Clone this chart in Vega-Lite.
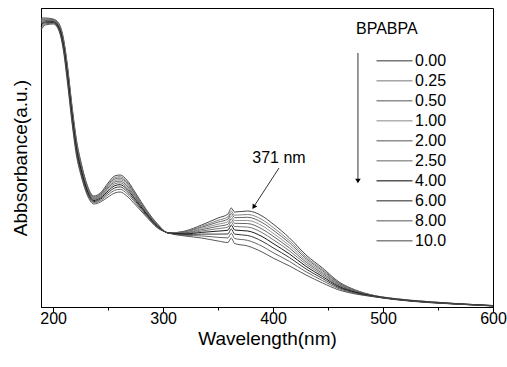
{
"$schema":"https://vega.github.io/schema/vega-lite/v6.json",
"width":452,"height":299,
"autosize":{"type":"none"},
"padding":{"left":41,"top":8,"right":14,"bottom":60},
"config":{"font":"Liberation Sans","view":{"stroke":"black","strokeWidth":1}},
"datasets":{"spec":[
{"c":"0.00","w":189,"a":2.890},{"c":"0.00","w":193,"a":2.890},{"c":"0.00","w":200,"a":2.880},{"c":"0.00","w":205,"a":2.840},{"c":"0.00","w":209,"a":2.710},{"c":"0.00","w":213,"a":2.420},{"c":"0.00","w":217,"a":2.030},{"c":"0.00","w":221,"a":1.690},{"c":"0.00","w":226,"a":1.420},{"c":"0.00","w":231,"a":1.220},{"c":"0.00","w":237,"a":1.110},{"c":"0.00","w":243,"a":1.140},{"c":"0.00","w":250,"a":1.240},{"c":"0.00","w":256,"a":1.310},{"c":"0.00","w":261,"a":1.320},{"c":"0.00","w":267,"a":1.270},{"c":"0.00","w":275,"a":1.140},{"c":"0.00","w":285,"a":0.970},{"c":"0.00","w":295,"a":0.830},{"c":"0.00","w":305,"a":0.740},{"c":"0.00","w":320,"a":0.760},{"c":"0.00","w":335,"a":0.820},{"c":"0.00","w":350,"a":0.890},{"c":"0.00","w":359,"a":0.930},{"c":"0.00","w":362,"a":0.990},{"c":"0.00","w":365,"a":0.950},{"c":"0.00","w":377,"a":0.960},{"c":"0.00","w":390,"a":0.910},{"c":"0.00","w":400,"a":0.830},{"c":"0.00","w":415,"a":0.690},{"c":"0.00","w":430,"a":0.520},{"c":"0.00","w":445,"a":0.390},{"c":"0.00","w":460,"a":0.250},{"c":"0.00","w":475,"a":0.170},{"c":"0.00","w":490,"a":0.120},{"c":"0.00","w":510,"a":0.085},{"c":"0.00","w":540,"a":0.055},{"c":"0.00","w":570,"a":0.032},{"c":"0.00","w":600,"a":0.015},
{"c":"0.25","w":189,"a":2.878},{"c":"0.25","w":193,"a":2.883},{"c":"0.25","w":200,"a":2.875},{"c":"0.25","w":205,"a":2.833},{"c":"0.25","w":209,"a":2.698},{"c":"0.25","w":213,"a":2.403},{"c":"0.25","w":217,"a":2.013},{"c":"0.25","w":221,"a":1.674},{"c":"0.25","w":226,"a":1.407},{"c":"0.25","w":231,"a":1.210},{"c":"0.25","w":237,"a":1.102},{"c":"0.25","w":243,"a":1.131},{"c":"0.25","w":250,"a":1.226},{"c":"0.25","w":256,"a":1.293},{"c":"0.25","w":261,"a":1.303},{"c":"0.25","w":267,"a":1.254},{"c":"0.25","w":275,"a":1.128},{"c":"0.25","w":285,"a":0.963},{"c":"0.25","w":295,"a":0.826},{"c":"0.25","w":305,"a":0.740},{"c":"0.25","w":320,"a":0.755},{"c":"0.25","w":335,"a":0.807},{"c":"0.25","w":350,"a":0.867},{"c":"0.25","w":359,"a":0.901},{"c":"0.25","w":362,"a":0.960},{"c":"0.25","w":365,"a":0.918},{"c":"0.25","w":377,"a":0.925},{"c":"0.25","w":390,"a":0.874},{"c":"0.25","w":400,"a":0.796},{"c":"0.25","w":415,"a":0.662},{"c":"0.25","w":430,"a":0.500},{"c":"0.25","w":445,"a":0.375},{"c":"0.25","w":460,"a":0.242},{"c":"0.25","w":475,"a":0.166},{"c":"0.25","w":490,"a":0.118},{"c":"0.25","w":510,"a":0.084},{"c":"0.25","w":540,"a":0.054},{"c":"0.25","w":570,"a":0.031},{"c":"0.25","w":600,"a":0.014},
{"c":"0.50","w":189,"a":2.868},{"c":"0.50","w":193,"a":2.877},{"c":"0.50","w":200,"a":2.871},{"c":"0.50","w":205,"a":2.827},{"c":"0.50","w":209,"a":2.688},{"c":"0.50","w":213,"a":2.389},{"c":"0.50","w":217,"a":1.999},{"c":"0.50","w":221,"a":1.661},{"c":"0.50","w":226,"a":1.397},{"c":"0.50","w":231,"a":1.202},{"c":"0.50","w":237,"a":1.096},{"c":"0.50","w":243,"a":1.124},{"c":"0.50","w":250,"a":1.215},{"c":"0.50","w":256,"a":1.279},{"c":"0.50","w":261,"a":1.289},{"c":"0.50","w":267,"a":1.241},{"c":"0.50","w":275,"a":1.118},{"c":"0.50","w":285,"a":0.957},{"c":"0.50","w":295,"a":0.823},{"c":"0.50","w":305,"a":0.740},{"c":"0.50","w":320,"a":0.751},{"c":"0.50","w":335,"a":0.797},{"c":"0.50","w":350,"a":0.849},{"c":"0.50","w":359,"a":0.879},{"c":"0.50","w":362,"a":0.936},{"c":"0.50","w":365,"a":0.893},{"c":"0.50","w":377,"a":0.897},{"c":"0.50","w":390,"a":0.845},{"c":"0.50","w":400,"a":0.769},{"c":"0.50","w":415,"a":0.640},{"c":"0.50","w":430,"a":0.484},{"c":"0.50","w":445,"a":0.363},{"c":"0.50","w":460,"a":0.236},{"c":"0.50","w":475,"a":0.163},{"c":"0.50","w":490,"a":0.117},{"c":"0.50","w":510,"a":0.083},{"c":"0.50","w":540,"a":0.053},{"c":"0.50","w":570,"a":0.031},{"c":"0.50","w":600,"a":0.014},
{"c":"1.00","w":189,"a":2.858},{"c":"1.00","w":193,"a":2.871},{"c":"1.00","w":200,"a":2.866},{"c":"1.00","w":205,"a":2.821},{"c":"1.00","w":209,"a":2.678},{"c":"1.00","w":213,"a":2.374},{"c":"1.00","w":217,"a":1.984},{"c":"1.00","w":221,"a":1.647},{"c":"1.00","w":226,"a":1.385},{"c":"1.00","w":231,"a":1.193},{"c":"1.00","w":237,"a":1.088},{"c":"1.00","w":243,"a":1.116},{"c":"1.00","w":250,"a":1.202},{"c":"1.00","w":256,"a":1.264},{"c":"1.00","w":261,"a":1.274},{"c":"1.00","w":267,"a":1.227},{"c":"1.00","w":275,"a":1.108},{"c":"1.00","w":285,"a":0.951},{"c":"1.00","w":295,"a":0.819},{"c":"1.00","w":305,"a":0.740},{"c":"1.00","w":320,"a":0.746},{"c":"1.00","w":335,"a":0.785},{"c":"1.00","w":350,"a":0.828},{"c":"1.00","w":359,"a":0.853},{"c":"1.00","w":362,"a":0.909},{"c":"1.00","w":365,"a":0.865},{"c":"1.00","w":377,"a":0.865},{"c":"1.00","w":390,"a":0.813},{"c":"1.00","w":400,"a":0.738},{"c":"1.00","w":415,"a":0.614},{"c":"1.00","w":430,"a":0.466},{"c":"1.00","w":445,"a":0.349},{"c":"1.00","w":460,"a":0.228},{"c":"1.00","w":475,"a":0.159},{"c":"1.00","w":490,"a":0.116},{"c":"1.00","w":510,"a":0.082},{"c":"1.00","w":540,"a":0.052},{"c":"1.00","w":570,"a":0.031},{"c":"1.00","w":600,"a":0.014},
{"c":"2.00","w":189,"a":2.847},{"c":"2.00","w":193,"a":2.865},{"c":"2.00","w":200,"a":2.862},{"c":"2.00","w":205,"a":2.815},{"c":"2.00","w":209,"a":2.667},{"c":"2.00","w":213,"a":2.359},{"c":"2.00","w":217,"a":1.969},{"c":"2.00","w":221,"a":1.632},{"c":"2.00","w":226,"a":1.373},{"c":"2.00","w":231,"a":1.184},{"c":"2.00","w":237,"a":1.081},{"c":"2.00","w":243,"a":1.108},{"c":"2.00","w":250,"a":1.190},{"c":"2.00","w":256,"a":1.249},{"c":"2.00","w":261,"a":1.259},{"c":"2.00","w":267,"a":1.212},{"c":"2.00","w":275,"a":1.097},{"c":"2.00","w":285,"a":0.945},{"c":"2.00","w":295,"a":0.816},{"c":"2.00","w":305,"a":0.740},{"c":"2.00","w":320,"a":0.742},{"c":"2.00","w":335,"a":0.773},{"c":"2.00","w":350,"a":0.807},{"c":"2.00","w":359,"a":0.827},{"c":"2.00","w":362,"a":0.882},{"c":"2.00","w":365,"a":0.837},{"c":"2.00","w":377,"a":0.834},{"c":"2.00","w":390,"a":0.780},{"c":"2.00","w":400,"a":0.708},{"c":"2.00","w":415,"a":0.589},{"c":"2.00","w":430,"a":0.448},{"c":"2.00","w":445,"a":0.336},{"c":"2.00","w":460,"a":0.221},{"c":"2.00","w":475,"a":0.156},{"c":"2.00","w":490,"a":0.115},{"c":"2.00","w":510,"a":0.081},{"c":"2.00","w":540,"a":0.051},{"c":"2.00","w":570,"a":0.030},{"c":"2.00","w":600,"a":0.013},
{"c":"2.50","w":189,"a":2.835},{"c":"2.50","w":193,"a":2.858},{"c":"2.50","w":200,"a":2.857},{"c":"2.50","w":205,"a":2.808},{"c":"2.50","w":209,"a":2.655},{"c":"2.50","w":213,"a":2.342},{"c":"2.50","w":217,"a":1.952},{"c":"2.50","w":221,"a":1.616},{"c":"2.50","w":226,"a":1.360},{"c":"2.50","w":231,"a":1.174},{"c":"2.50","w":237,"a":1.073},{"c":"2.50","w":243,"a":1.099},{"c":"2.50","w":250,"a":1.176},{"c":"2.50","w":256,"a":1.232},{"c":"2.50","w":261,"a":1.242},{"c":"2.50","w":267,"a":1.196},{"c":"2.50","w":275,"a":1.085},{"c":"2.50","w":285,"a":0.938},{"c":"2.50","w":295,"a":0.812},{"c":"2.50","w":305,"a":0.740},{"c":"2.50","w":320,"a":0.737},{"c":"2.50","w":335,"a":0.760},{"c":"2.50","w":350,"a":0.784},{"c":"2.50","w":359,"a":0.799},{"c":"2.50","w":362,"a":0.852},{"c":"2.50","w":365,"a":0.805},{"c":"2.50","w":377,"a":0.799},{"c":"2.50","w":390,"a":0.744},{"c":"2.50","w":400,"a":0.674},{"c":"2.50","w":415,"a":0.561},{"c":"2.50","w":430,"a":0.428},{"c":"2.50","w":445,"a":0.321},{"c":"2.50","w":460,"a":0.213},{"c":"2.50","w":475,"a":0.152},{"c":"2.50","w":490,"a":0.113},{"c":"2.50","w":510,"a":0.080},{"c":"2.50","w":540,"a":0.050},{"c":"2.50","w":570,"a":0.030},{"c":"2.50","w":600,"a":0.013},
{"c":"4.00","w":189,"a":2.822},{"c":"4.00","w":193,"a":2.850},{"c":"4.00","w":200,"a":2.851},{"c":"4.00","w":205,"a":2.800},{"c":"4.00","w":209,"a":2.642},{"c":"4.00","w":213,"a":2.323},{"c":"4.00","w":217,"a":1.933},{"c":"4.00","w":221,"a":1.599},{"c":"4.00","w":226,"a":1.346},{"c":"4.00","w":231,"a":1.163},{"c":"4.00","w":237,"a":1.064},{"c":"4.00","w":243,"a":1.089},{"c":"4.00","w":250,"a":1.160},{"c":"4.00","w":256,"a":1.213},{"c":"4.00","w":261,"a":1.223},{"c":"4.00","w":267,"a":1.179},{"c":"4.00","w":275,"a":1.072},{"c":"4.00","w":285,"a":0.930},{"c":"4.00","w":295,"a":0.807},{"c":"4.00","w":305,"a":0.740},{"c":"4.00","w":320,"a":0.731},{"c":"4.00","w":335,"a":0.746},{"c":"4.00","w":350,"a":0.759},{"c":"4.00","w":359,"a":0.768},{"c":"4.00","w":362,"a":0.819},{"c":"4.00","w":365,"a":0.770},{"c":"4.00","w":377,"a":0.760},{"c":"4.00","w":390,"a":0.705},{"c":"4.00","w":400,"a":0.636},{"c":"4.00","w":415,"a":0.530},{"c":"4.00","w":430,"a":0.406},{"c":"4.00","w":445,"a":0.304},{"c":"4.00","w":460,"a":0.204},{"c":"4.00","w":475,"a":0.147},{"c":"4.00","w":490,"a":0.111},{"c":"4.00","w":510,"a":0.079},{"c":"4.00","w":540,"a":0.049},{"c":"4.00","w":570,"a":0.029},{"c":"4.00","w":600,"a":0.012},
{"c":"6.00","w":189,"a":2.806},{"c":"6.00","w":193,"a":2.841},{"c":"6.00","w":200,"a":2.845},{"c":"6.00","w":205,"a":2.791},{"c":"6.00","w":209,"a":2.626},{"c":"6.00","w":213,"a":2.301},{"c":"6.00","w":217,"a":1.911},{"c":"6.00","w":221,"a":1.578},{"c":"6.00","w":226,"a":1.329},{"c":"6.00","w":231,"a":1.150},{"c":"6.00","w":237,"a":1.054},{"c":"6.00","w":243,"a":1.077},{"c":"6.00","w":250,"a":1.142},{"c":"6.00","w":256,"a":1.191},{"c":"6.00","w":261,"a":1.201},{"c":"6.00","w":267,"a":1.158},{"c":"6.00","w":275,"a":1.056},{"c":"6.00","w":285,"a":0.921},{"c":"6.00","w":295,"a":0.802},{"c":"6.00","w":305,"a":0.740},{"c":"6.00","w":320,"a":0.725},{"c":"6.00","w":335,"a":0.729},{"c":"6.00","w":350,"a":0.729},{"c":"6.00","w":359,"a":0.730},{"c":"6.00","w":362,"a":0.780},{"c":"6.00","w":365,"a":0.729},{"c":"6.00","w":377,"a":0.715},{"c":"6.00","w":390,"a":0.658},{"c":"6.00","w":400,"a":0.592},{"c":"6.00","w":415,"a":0.494},{"c":"6.00","w":430,"a":0.380},{"c":"6.00","w":445,"a":0.285},{"c":"6.00","w":460,"a":0.194},{"c":"6.00","w":475,"a":0.142},{"c":"6.00","w":490,"a":0.109},{"c":"6.00","w":510,"a":0.078},{"c":"6.00","w":540,"a":0.048},{"c":"6.00","w":570,"a":0.028},{"c":"6.00","w":600,"a":0.011},
{"c":"8.00","w":189,"a":2.789},{"c":"8.00","w":193,"a":2.831},{"c":"8.00","w":200,"a":2.838},{"c":"8.00","w":205,"a":2.781},{"c":"8.00","w":209,"a":2.609},{"c":"8.00","w":213,"a":2.277},{"c":"8.00","w":217,"a":1.887},{"c":"8.00","w":221,"a":1.556},{"c":"8.00","w":226,"a":1.311},{"c":"8.00","w":231,"a":1.136},{"c":"8.00","w":237,"a":1.043},{"c":"8.00","w":243,"a":1.064},{"c":"8.00","w":250,"a":1.122},{"c":"8.00","w":256,"a":1.167},{"c":"8.00","w":261,"a":1.177},{"c":"8.00","w":267,"a":1.136},{"c":"8.00","w":275,"a":1.039},{"c":"8.00","w":285,"a":0.911},{"c":"8.00","w":295,"a":0.796},{"c":"8.00","w":305,"a":0.740},{"c":"8.00","w":320,"a":0.718},{"c":"8.00","w":335,"a":0.711},{"c":"8.00","w":350,"a":0.697},{"c":"8.00","w":359,"a":0.691},{"c":"8.00","w":362,"a":0.738},{"c":"8.00","w":365,"a":0.685},{"c":"8.00","w":377,"a":0.666},{"c":"8.00","w":390,"a":0.608},{"c":"8.00","w":400,"a":0.544},{"c":"8.00","w":415,"a":0.455},{"c":"8.00","w":430,"a":0.352},{"c":"8.00","w":445,"a":0.264},{"c":"8.00","w":460,"a":0.183},{"c":"8.00","w":475,"a":0.136},{"c":"8.00","w":490,"a":0.107},{"c":"8.00","w":510,"a":0.077},{"c":"8.00","w":540,"a":0.047},{"c":"8.00","w":570,"a":0.028},{"c":"8.00","w":600,"a":0.011},
{"c":"10.0","w":189,"a":2.770},{"c":"10.0","w":193,"a":2.820},{"c":"10.0","w":200,"a":2.830},{"c":"10.0","w":205,"a":2.770},{"c":"10.0","w":209,"a":2.590},{"c":"10.0","w":213,"a":2.250},{"c":"10.0","w":217,"a":1.860},{"c":"10.0","w":221,"a":1.530},{"c":"10.0","w":226,"a":1.290},{"c":"10.0","w":231,"a":1.120},{"c":"10.0","w":237,"a":1.030},{"c":"10.0","w":243,"a":1.050},{"c":"10.0","w":250,"a":1.100},{"c":"10.0","w":256,"a":1.140},{"c":"10.0","w":261,"a":1.150},{"c":"10.0","w":267,"a":1.110},{"c":"10.0","w":275,"a":1.020},{"c":"10.0","w":285,"a":0.900},{"c":"10.0","w":295,"a":0.790},{"c":"10.0","w":305,"a":0.740},{"c":"10.0","w":320,"a":0.710},{"c":"10.0","w":335,"a":0.690},{"c":"10.0","w":350,"a":0.660},{"c":"10.0","w":359,"a":0.645},{"c":"10.0","w":362,"a":0.690},{"c":"10.0","w":365,"a":0.635},{"c":"10.0","w":377,"a":0.610},{"c":"10.0","w":390,"a":0.550},{"c":"10.0","w":400,"a":0.490},{"c":"10.0","w":415,"a":0.410},{"c":"10.0","w":430,"a":0.320},{"c":"10.0","w":445,"a":0.240},{"c":"10.0","w":460,"a":0.170},{"c":"10.0","w":475,"a":0.130},{"c":"10.0","w":490,"a":0.105},{"c":"10.0","w":510,"a":0.075},{"c":"10.0","w":540,"a":0.045},{"c":"10.0","w":570,"a":0.027},{"c":"10.0","w":600,"a":0.010}
]},
"layer":[
{"data":{"name":"spec"},
 "mark":{"type":"line","strokeWidth":0.9,"interpolate":"monotone"},
 "encoding":{
  "x":{"field":"w","type":"quantitative","scale":{"domain":[189,600],"nice":false,"zero":false},
   "axis":{"values":[200,250,300,350,400,450,500,550,600],"labelExpr":"datum.value % 100 === 0 ? datum.label : ''",
    "tickSize":{"condition":{"test":"datum.value % 100 === 0","value":5},"value":3},"labelFlush":false,"labelOverlap":false,
    "tickColor":"black","domainColor":"black","labelColor":"black","labelFontSize":16,"labelPadding":-2,"grid":false,
    "title":"Wavelength(nm)","titleFontSize":19,"titleFontWeight":"normal","titleColor":"black","titlePadding":3}},
  "y":{"field":"a","type":"quantitative","scale":{"domain":[0,2.99],"nice":false,"zero":false},
   "axis":{"labels":false,"ticks":false,"grid":false,"domainColor":"black","title":"Abbsorbance(a.u.)","titleFontSize":19,"titleFontWeight":"normal","titleColor":"black","titlePadding":11}},
  "color":{"field":"c","type":"nominal",
   "scale":{"domain":["0.00","0.25","0.50","1.00","2.00","2.50","4.00","6.00","8.00","10.0"],
    "range":["#333","#777","#555","#888","#555","#666","#000","#222","#555","#444"]},
   "legend":{"orient":"none","legendX":335,"legendY":43,"title":null,"symbolType":"stroke","symbolSize":1296,"symbolStrokeWidth":1,
    "clipHeight":19.7,"rowPadding":0,"padding":0,"labelFontSize":16,"labelOffset":2,"labelColor":"black"}}
 }},
{"data":{"values":[{}]},"mark":{"type":"rule","color":"black","strokeWidth":0.8},
 "encoding":{"x":{"datum":405.4,"type":"quantitative"},"y":{"datum":1.39,"type":"quantitative"},"x2":{"datum":383.5},"y2":{"datum":1.02}}},
{"data":{"values":[{}]},"mark":{"type":"point","shape":"triangle-down","filled":true,"color":"black","opacity":1,"size":30,"angle":33},
 "encoding":{"x":{"datum":382.4,"type":"quantitative"},"y":{"datum":1.0,"type":"quantitative"}}},
{"data":{"values":[{}]},"mark":{"type":"text","text":"371 nm","fontSize":16,"color":"black","align":"center","baseline":"middle"},
 "encoding":{"x":{"datum":405.4,"type":"quantitative"},"y":{"datum":1.49,"type":"quantitative"}}},
{"data":{"values":[{}]},"mark":{"type":"rule","color":"black","strokeWidth":0.8},
 "encoding":{"x":{"datum":477.2,"type":"quantitative"},"y":{"datum":2.54,"type":"quantitative"},"y2":{"datum":1.28}}},
{"data":{"values":[{}]},"mark":{"type":"point","shape":"triangle-down","filled":true,"color":"black","opacity":1,"size":30},
 "encoding":{"x":{"datum":477.2,"type":"quantitative"},"y":{"datum":1.26,"type":"quantitative"}}},
{"data":{"values":[{}]},"mark":{"type":"text","text":"BPABPA","fontSize":16,"color":"black","align":"left","baseline":"middle"},
 "encoding":{"x":{"datum":475.4,"type":"quantitative"},"y":{"datum":2.78,"type":"quantitative"}}}
]
}
